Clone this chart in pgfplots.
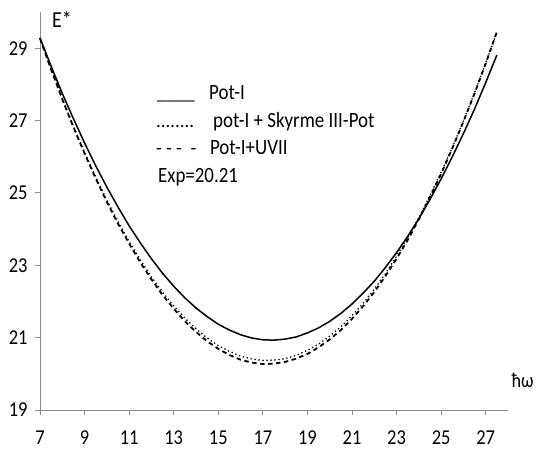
\documentclass[border=0pt]{standalone}
\usepackage{pgfplots}
\pgfplotsset{compat=1.18}
\usepackage{fontspec}
\setmainfont{Carlito}
\newcommand{\tall}[1]{\scalebox{1}[1.15]{#1}}
\begin{document}
\begin{tikzpicture}
\begin{axis}[
 name=ax,
 at={(0,0)}, anchor=south west,
 scale only axis,
 width=468bp, height=398bp,
 xmin=7, xmax=28, ymin=19, ymax=30,
 axis lines=left,
 axis line style={draw=black!45, line width=0.9bp, -},
 xtick={7,9,...,27}, ytick={19,21,...,29},
 tick align=outside, major tick length=5bp,
 tick style={draw=black!45, line width=0.9bp},
 tick label style={font=\fontsize{18.5}{22}\selectfont, text=black},
 xticklabel={\tall{\pgfmathprintnumber{\tick}}},
 yticklabel={\tall{\pgfmathprintnumber{\tick}}},
 xticklabel style={yshift=-12bp},
 yticklabel style={xshift=-4bp},
 /pgf/number format/assume math mode=true,
 clip=false,
]
% pot-I + Skyrme III-Pot (dotted)
\addplot[black, line width=1.8bp, line cap=round, dash pattern=on 0bp off 4bp] coordinates {
(7,29.27)(7.5,28.41)(8,27.61)(8.5,26.84)(9,26.12)(9.5,25.44)(10,24.80)(10.5,24.21)
(11,23.66)(11.5,23.15)(12,22.68)(12.5,22.26)(13,21.88)(13.5,21.54)(14,21.25)(14.5,20.99)
(15,20.78)(15.5,20.62)(16,20.49)(16.5,20.41)(17,20.37)(17.5,20.38)(18,20.42)(18.5,20.51)
(19,20.65)(19.5,20.82)(20,21.04)(20.5,21.30)(21,21.61)(21.5,21.95)(22,22.34)(22.5,22.77)
(23,23.25)(23.5,23.76)(24,24.32)(24.5,24.93)(25,25.57)(25.5,26.26)(26,26.99)(26.5,27.77)
(27,28.58)(27.5,29.44)};
% Pot-I+UVII (dashed)
\addplot[black, line width=1.8bp, dash pattern=on 4.5bp off 3.5bp] coordinates {
(7,29.27)(7.5,28.41)(8,27.59)(8.5,26.82)(9,26.09)(9.5,25.40)(10,24.75)(10.5,24.15)
(11,23.60)(11.5,23.08)(12,22.61)(12.5,22.18)(13,21.80)(13.5,21.45)(14,21.16)(14.5,20.90)
(15,20.69)(15.5,20.52)(16,20.39)(16.5,20.31)(17,20.27)(17.5,20.28)(18,20.33)(18.5,20.42)
(19,20.55)(19.5,20.73)(20,20.95)(20.5,21.21)(21,21.52)(21.5,21.87)(22,22.26)(22.5,22.70)
(23,23.18)(23.5,23.70)(24,24.27)(24.5,24.88)(25,25.53)(25.5,26.23)(26,26.97)(26.5,27.75)
(27,28.58)(27.5,29.45)};
% Pot-I (solid)
\addplot[black, line width=1.5bp] coordinates {
(7,29.28)(7.5,28.50)(8,27.75)(8.5,27.05)(9,26.38)(9.5,25.75)(10,25.16)(10.5,24.61)
(11,24.09)(11.5,23.62)(12,23.18)(12.5,22.78)(13,22.42)(13.5,22.10)(14,21.82)(14.5,21.58)
(15,21.37)(15.5,21.21)(16,21.08)(16.5,20.99)(17,20.94)(17.5,20.93)(18,20.96)(18.5,21.02)
(19,21.13)(19.5,21.27)(20,21.45)(20.5,21.67)(21,21.93)(21.5,22.23)(22,22.56)(22.5,22.94)
(23,23.35)(23.5,23.80)(24,24.29)(24.5,24.82)(25,25.39)(25.5,26.00)(26,26.64)(26.5,27.32)
(27,28.05)(27.5,28.81)};
% axis titles
\node[anchor=base west, inner sep=0pt, font=\fontsize{20}{24}\selectfont] at (axis cs:7.54,29.56) {\tall{E*}};
\node[anchor=base west, inner sep=0pt, font=\fontsize{18}{22}\selectfont] at (axis cs:28.15,19.62) {\tall{ħω}};
% legend
\begin{scope}[every node/.style={anchor=base west, inner sep=0pt, font=\fontsize{19}{23}\selectfont}]
\node at (axis cs:12.25,27.571) {\_\_\_\_};
\node at (axis cs:14.58,27.571) {\tall{Pot-I}};
\node at (axis cs:12.20,26.811) {........};
\node at (axis cs:14.76,26.811) {\tall{pot-I + Skyrme III-Pot}};
\node at (axis cs:12.20,26.052) {- - -\ \ -};
\node at (axis cs:14.62,26.052) {\tall{Pot-I+UVII}};
\node at (axis cs:12.29,25.293) {\tall{Exp=20.21}};
\end{scope}
\end{axis}
\pgfresetboundingbox
\path[use as bounding box] ([shift={(-40bp,-40bp)}]ax.south west) rectangle ([shift={(28bp,12bp)}]ax.north east);
\end{tikzpicture}
\end{document}
